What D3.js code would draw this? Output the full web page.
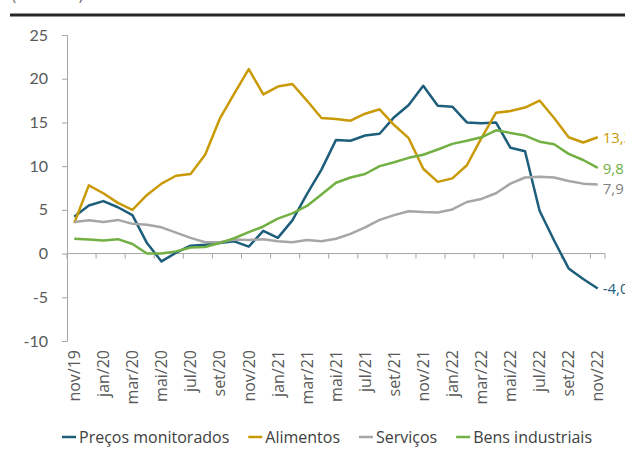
<!DOCTYPE html>
<html>
<head>
<meta charset="utf-8">
<script src="https://cdn.jsdelivr.net/npm/d3@7"></script>
<style>
  body { margin: 0; background: #fff; }
  svg { font-family: "Open Sans", Lato, sans-serif; }
</style>
</head>
<body>
<div class="chart"></div>
<script>
// monthly categories nov/19 .. nov/22
var months = ["nov/19","dez/19","jan/20","fev/20","mar/20","abr/20","mai/20","jun/20","jul/20","ago/20","set/20","out/20",
    "nov/20","dez/20","jan/21","fev/21","mar/21","abr/21","mai/21","jun/21","jul/21","ago/21","set/21","out/21",
    "nov/21","dez/21","jan/22","fev/22","mar/22","abr/22","mai/22","jun/22","jul/22","ago/22","set/22","out/22","nov/22"];

var monitorados = [4.2, 5.5, 6.0, 5.3, 4.4, 1.2, -0.9, 0.1, 0.9, 1.0, 1.2, 1.4, 0.8, 2.6, 1.8, 3.8, 6.8, 9.6, 13.0, 12.9,
    13.5, 13.7, 15.6, 17.0, 19.2, 16.9, 16.8, 15.0, 14.9, 15.0, 12.1, 11.7, 4.9, 1.5, -1.7, -2.9, -4.0];
var alimentos = [3.5, 7.8, 6.9, 5.8, 5.0, 6.7, 8.0, 8.9, 9.1, 11.3, 15.4, 18.3, 21.1, 18.2, 19.1, 19.4, 17.5, 15.5, 15.4, 15.2,
    16.0, 16.5, 14.7, 13.2, 9.7, 8.2, 8.6, 10.1, 13.2, 16.1, 16.3, 16.7, 17.5, 15.5, 13.3, 12.7, 13.3];
var servicos = [3.6, 3.8, 3.6, 3.85, 3.4, 3.3, 3.0, 2.4, 1.8, 1.3, 1.3, 1.6, 1.55, 1.65, 1.4, 1.3, 1.55, 1.4, 1.7, 2.25,
    3.0, 3.85, 4.4, 4.85, 4.75, 4.7, 5.05, 5.9, 6.25, 6.9, 8.0, 8.7, 8.8, 8.7, 8.3, 8.0, 7.9];
var bens = [1.7, 1.6, 1.5, 1.65, 1.1, 0.0, 0.0, 0.25, 0.7, 0.75, 1.2, 1.75, 2.45, 3.1, 4.0, 4.6, 5.45, 6.75, 8.1, 8.7,
    9.1, 10.0, 10.45, 10.95, 11.3, 11.9, 12.55, 12.9, 13.3, 14.1, 13.8, 13.5, 12.8, 12.5, 11.4, 10.7, 9.8];

var yTicks = [-10, -5, 0, 5, 10, 15, 20, 25];

var series = [
    {name: "Preços monitorados", values: monitorados, color: "#1d5e7b", label: "-4,0", labelColor: "#1d5e7b", dy: 0},
    {name: "Alimentos", values: alimentos, color: "#c99a06", label: "13,3", labelColor: "#c99a06", dy: 0},
    {name: "Serviços", values: servicos, color: "#a6a6a6", label: "7,9", labelColor: "#7f7f7f", dy: 4},
    {name: "Bens industriais", values: bens, color: "#72b043", label: "9,8", labelColor: "#72b043", dy: 1}
];

var svgWidth = 625;
var svgHeight = 449;

var svg = d3.select(".chart")
    .append("svg")
    .attr("width", svgWidth)
    .attr("height", svgHeight);

// cut off subtitle and the black rule at the top
svg.append("text")
    .attr("x", 12)
    .attr("y", 0)
    .attr("fill", "#595959")
    .style("font-size", "14px")
    .text("(em % a.a.)");

svg.append("line")
    .attr("x1", 10).attr("x2", 625)
    .attr("y1", 15).attr("y2", 15)
    .attr("stroke", "#262626")
    .attr("stroke-width", 3);

var xScale = d3.scaleBand()
    .domain(months)
    .range([67, 605]);

var yScale = d3.scaleLinear()
    .domain([-10, 25])
    .range([341, 35]);

var xc = d => xScale(d) + xScale.bandwidth() / 2;

// y axis
var leftAxis = d3.axisLeft(yScale)
    .tickValues(yTicks)
    .tickFormat(d => String(d))
    .tickSize(5)
    .tickPadding(14);
var yAxis = svg.append("g")
    .attr("transform", "translate(67,0)")
    .call(leftAxis);
yAxis.select(".domain").attr("stroke", "#a6a6a6");
yAxis.selectAll(".tick line").attr("stroke", "#a6a6a6");
yAxis.selectAll("text")
    .attr("fill", "#595959")
    .style("font-size", "16px")
    .style("font-family", "Lato, sans-serif");

// x axis line at zero with ticks between every two months
var xAxisG = svg.append("g");
xAxisG.append("line")
    .attr("x1", 67).attr("x2", 605)
    .attr("y1", yScale(0)).attr("y2", yScale(0))
    .attr("stroke", "#a6a6a6");
xAxisG.selectAll(".xtick")
    .data(months.filter((m, i) => i % 2 == 0))
    .enter()
    .append("line")
    .attr("x1", d => xScale(d)).attr("x2", d => xScale(d))
    .attr("y1", yScale(0)).attr("y2", yScale(0) + 5)
    .attr("stroke", "#a6a6a6");
xAxisG.append("line")
    .attr("x1", 605).attr("x2", 605)
    .attr("y1", yScale(0)).attr("y2", yScale(0) + 5)
    .attr("stroke", "#a6a6a6");

// x labels, every other month, rotated
svg.selectAll(".xlabel")
    .data(months.filter((m, i) => i % 2 == 0))
    .enter()
    .append("text")
    .attr("transform", d => `translate(${xc(d)}, 350) rotate(-90)`)
    .attr("text-anchor", "end")
    .attr("dy", "0.36em")
    .attr("fill", "#595959")
    .style("font-size", "16px")
    .text(d => d);

// lines
var line = d3.line()
    .x((d, i) => xc(months[i]))
    .y(d => yScale(d));

svg.selectAll(".series")
    .data(series)
    .enter()
    .append("path")
    .attr("d", d => line(d.values))
    .attr("fill", "none")
    .attr("stroke", d => d.color)
    .attr("stroke-width", 2.5)
    .attr("stroke-linejoin", "round");

// end labels
svg.selectAll(".endlabel")
    .data(series)
    .enter()
    .append("text")
    .attr("x", xc(months[months.length - 1]) + 5)
    .attr("y", d => yScale(d.values[d.values.length - 1]) + d.dy)
    .attr("dy", "0.35em")
    .attr("fill", d => d.labelColor)
    .style("font-size", "15px")
    .text(d => d.label);

// legend, spread between x=62 and x=592
var legend = svg.selectAll(".legend")
    .data(series)
    .enter()
    .append("g");

legend.append("line")
    .attr("x1", 0).attr("x2", 14)
    .attr("stroke", d => d.color)
    .attr("stroke-width", 2.5);

var legendText = legend.append("text")
    .attr("x", 17)
    .attr("dy", "0.35em")
    .attr("fill", "#404040")
    .style("font-size", "16px")
    .text(d => d.name);

var widths = [];
legendText.each(function () { widths.push(17 + this.getComputedTextLength()); });
var gap = (592 - 62 - d3.sum(widths)) / (widths.length - 1);
var pos = 62;
legend.attr("transform", function (d, i) {
    var t = `translate(${pos}, 437)`;
    pos += widths[i] + gap;
    return t;
});
</script>
</body>
</html>
